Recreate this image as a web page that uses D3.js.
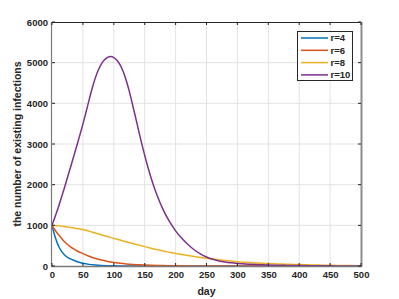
<!DOCTYPE html>
<html><head><meta charset="utf-8">
<script src="https://cdn.jsdelivr.net/npm/d3@7"></script>
<style>
html,body{margin:0;padding:0;background:#fff;}
svg{display:block;font-family:"Liberation Sans",Arial,sans-serif;}
</style></head><body>
<svg id="chart" width="399" height="299"></svg>
<script>
const seriesNames = ["r=4","r=6","r=8","r=10"];
const seriesColors = ["#0072BD","#D95319","#EDB120","#7E2F8E"];
const xTicks = [0,50,100,150,200,250,300,350,400,450,500];
const yTicks = [0,1000,2000,3000,4000,5000,6000];

const daysR4 = [0,5,10,15,20,25,30,35,40,45,50,60,70,80,90,100,110,120,130,150,200,300,400,500];
const valsR4 = [1000,720,510,370,275,215,175,140,112,88,68,40,23,13,8,5,3,2,1,0,0,0,0,0];

const daysR6 = [0,5,10,15,20,25,30,35,40,45,50,60,70,80,90,100,110,120,130,140,150,160,170,180,190,200,210,220,230,240,250,300,400,500];
const valsR6 = [1000,880,780,690,600,530,470,420,375,340,305,240,185,145,110,85,66,50,38,30,23,17,13,10,8,6,4,3,2,2,1,0,0,0];

const daysR8 = [0,5,10,15,20,25,30,35,40,45,50,60,70,80,90,100,110,120,130,140,150,160,170,180,190,200,210,220,230,240,250,260,270,280,290,300,310,320,330,340,350,360,370,380,390,400,410,420,430,440,450,460,470,480,490,500];
const valsR8 = [1000,997,990,982,972,960,948,935,922,910,898,858,812,768,724,680,638,596,555,515,476,438,403,368,338,310,283,258,234,211,190,170,152,135,120,106,94,84,75,68,60,54,48,43,38,34,30,26,23,20,17,14,12,10,8,7];

const daysR10 = [0,10,20,30,40,50,55,60,65,70,75,80,85,90,95,100,105,110,115,120,125,130,135,140,145,150,155,160,165,170,180,190,200,210,220,230,240,250,260,270,280,290,300,320,340,360,380,400,420,440,460,480,500];
const valsR10 = [1000,1430,1920,2430,2950,3490,3780,4080,4370,4620,4820,4970,5070,5130,5150,5125,5060,4950,4790,4570,4300,3990,3670,3340,3020,2720,2440,2180,1950,1740,1380,1095,865,680,530,400,300,222,165,125,97,77,62,43,30,21,15,10,7,5,3,2,1];

const allDays = [daysR4, daysR6, daysR8, daysR10];
const allVals = [valsR4, valsR6, valsR8, valsR10];

const svg = d3.select("#chart");
const L = 52, R = 361, T = 22, B = 266;
const x = d3.scaleLinear().domain([0,500]).range([L,R]);
const y = d3.scaleLinear().domain([0,6000]).range([B,T]);

// grid
const g = svg.append("g");
g.selectAll("line.vx").data(xTicks.slice(1,-1)).enter().append("line")
  .attr("x1",d=>x(d)).attr("x2",d=>x(d)).attr("y1",T).attr("y2",B)
  .attr("stroke","#e3e3e3").attr("stroke-width",1);
g.selectAll("line.hy").data(yTicks.slice(1,-1)).enter().append("line")
  .attr("x1",L).attr("x2",R).attr("y1",d=>y(d)).attr("y2",d=>y(d))
  .attr("stroke","#e3e3e3").attr("stroke-width",1);

// lines
const line = d3.line().curve(d3.curveMonotoneX);
allDays.forEach((days,i)=>{
  const pts = days.map((d,j)=>[x(d), y(allVals[i][j])]);
  svg.append("path").attr("d", line(pts)).attr("fill","none")
    .attr("stroke", seriesColors[i]).attr("stroke-width",1.5);
});

// frame
svg.append("line").attr("x1",L).attr("x2",R).attr("y1",T+0.5).attr("y2",T+0.5).attr("stroke","#262626").attr("stroke-width",1);
svg.append("line").attr("x1",R+0.5).attr("x2",R+0.5).attr("y1",T).attr("y2",B+1).attr("stroke","#8c8c8c").attr("stroke-width",2);
svg.append("line").attr("x1",L-0.5).attr("x2",L-0.5).attr("y1",T).attr("y2",B+1).attr("stroke","#7a7a7a").attr("stroke-width",1.2);
svg.append("line").attr("x1",L-1).attr("x2",R+1).attr("y1",B+0.5).attr("y2",B+0.5).attr("stroke","#7a7a7a").attr("stroke-width",1.6);

// ticks (inward)
xTicks.forEach(t=>{
  svg.append("line").attr("x1",x(t)).attr("x2",x(t)).attr("y1",T).attr("y2",T+3).attr("stroke","#262626");
  svg.append("line").attr("x1",x(t)).attr("x2",x(t)).attr("y1",B).attr("y2",B-3).attr("stroke","#262626");
});
yTicks.forEach(t=>{
  svg.append("line").attr("x1",L).attr("x2",L+3).attr("y1",y(t)).attr("y2",y(t)).attr("stroke","#262626");
  svg.append("line").attr("x1",R).attr("x2",R-3).attr("y1",y(t)).attr("y2",y(t)).attr("stroke","#262626");
});

// tick labels via axes
const xAxis = d3.axisBottom(x).tickValues(xTicks).tickFormat(d3.format("d")).tickSize(0).tickPadding(0);
const xa = svg.append("g").attr("transform",`translate(0,${B+5})`).call(xAxis);
xa.select(".domain").remove();
xa.selectAll("text").attr("font-size","9.5px").attr("font-weight","bold").attr("fill","#262626")
  .attr("font-family","'Liberation Sans',Arial,sans-serif").attr("dy","0.71em");

const yAxis = d3.axisLeft(y).tickValues(yTicks).tickFormat(d3.format("d")).tickSize(0).tickPadding(0);
const ya = svg.append("g").attr("transform",`translate(${L-4},0)`).call(yAxis);
ya.select(".domain").remove();
ya.selectAll("text").attr("font-size","9.5px").attr("font-weight","bold").attr("fill","#262626")
  .attr("font-family","'Liberation Sans',Arial,sans-serif");

// axis labels
svg.append("text").attr("x",(L+R)/2).attr("y",295).attr("text-anchor","middle")
  .attr("font-size","10.5px").attr("font-weight","bold").attr("fill","#262626").text("day");
svg.append("text").attr("transform",`translate(21,${(T+B)/2}) rotate(-90)`).attr("text-anchor","middle")
  .attr("font-size","10.5px").attr("font-weight","bold").attr("fill","#262626").text("the number of existing infections");

// legend
const lg = svg.append("g");
lg.append("rect").attr("x",297.5).attr("y",31.5).attr("width",55).attr("height",49)
  .attr("fill","#fff").attr("stroke","#262626").attr("stroke-width",1);
seriesNames.forEach((n,i)=>{
  const yy = 38 + i*12.3;
  lg.append("line").attr("x1",301).attr("x2",328).attr("y1",yy).attr("y2",yy)
    .attr("stroke",seriesColors[i]).attr("stroke-width",1.5);
  lg.append("text").attr("x",330.5).attr("y",yy+3.3).attr("font-size","9.5px").attr("font-weight","bold")
    .attr("fill","#262626").text(n);
});
</script>
</body></html>
